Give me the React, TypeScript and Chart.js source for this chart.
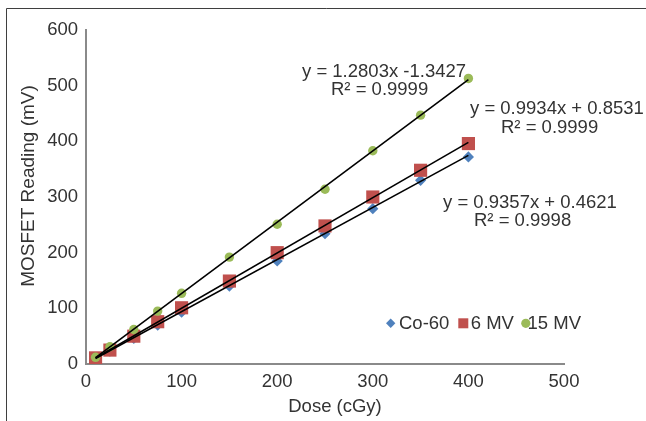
import React, { useEffect, useRef } from "react";
import { Chart, registerables } from "chart.js";

Chart.register(...registerables);

// ---- data ----
const doses = [10, 25, 50, 75, 100, 150, 200, 250, 300, 350, 400];
const co60 = [10, 23, 46, 70, 93, 140, 185, 234, 279, 330, 372];
const mv6 = [11, 25, 50, 76, 101, 149, 200, 248, 300, 348, 396];
const mv15 = [12, 31, 62, 95, 127, 192, 251, 314, 383, 447, 513];

const seriesNames = ["Co-60", "6 MV", "15 MV"];
const seriesColors = ["#4F81BD", "#C0504D", "#9BBB59"];

// trendline fits (as printed on the chart)
const slopes = [0.9357, 0.9934, 1.2803];
const intercepts = [0.4621, 0.8531, -1.3427];
const fitRange = [10, 400];

const equationLabels = [
  "y = 0.9357x + 0.4621",
  "y = 0.9934x + 0.8531",
  "y = 1.2803x -1.3427",
];
const r2Labels = ["R² = 0.9998", "R² = 0.9999", "R² = 0.9999"];

const xTicks = [0, 100, 200, 300, 400, 500];
const yTicks = [0, 100, 200, 300, 400, 500, 600];

const xTitle = "Dose (cGy)";
const yTitle = "MOSFET Reading (mV)";

const FONT = '"Liberation Sans", Arial, Helvetica, sans-serif';
const TEXT = "#333333";

const toPoints = (xs: number[], ys: number[]) => xs.map((x, i) => ({ x, y: ys[i] }));
const trend = (i: number) =>
  fitRange.map((x) => ({ x, y: slopes[i] * x + intercepts[i] }));

// label positions (canvas pixels): [eqX, eqY, r2X, r2Y] per series
const labelPos = [
  [443, 208, 474, 225.5],
  [470, 114, 501, 133],
  [302, 76.5, 331, 95],
];

const decorPlugin = {
  id: "decor",
  beforeDraw(chart: any) {
    const ctx = chart.ctx;
    ctx.save();
    ctx.fillStyle = "#ffffff";
    ctx.fillRect(0, 0, chart.width, chart.height);
    // outer frame
    ctx.strokeStyle = "#3f3f3f";
    ctx.lineWidth = 1;
    ctx.beginPath();
    ctx.moveTo(6.5, chart.height);
    ctx.lineTo(6.5, 8.5);
    ctx.lineTo(chart.width, 8.5);
    ctx.stroke();
    ctx.restore();
  },
  afterDraw(chart: any) {
    const ctx = chart.ctx;
    ctx.save();
    ctx.fillStyle = TEXT;
    ctx.textBaseline = "alphabetic";
    ctx.textAlign = "left";
    ctx.font = `18.5px ${FONT}`;
    // trendline equations
    for (let i = 0; i < 3; i++) {
      const p = labelPos[i];
      ctx.fillText(equationLabels[i], p[0], p[1]);
      ctx.fillText(r2Labels[i], p[2], p[3]);
    }
    // axis titles
    ctx.textAlign = "center";
    ctx.fillText(xTitle, 335, 411.5);
    ctx.save();
    ctx.translate(33.5, 186);
    ctx.rotate(-Math.PI / 2);
    ctx.font = `19px ${FONT}`;
    ctx.fillText(yTitle, 0, 0);
    ctx.restore();

    // legend
    const ly = 323.3;
    const base = 328.5;
    ctx.textAlign = "left";
    // Co-60 diamond
    ctx.fillStyle = seriesColors[0];
    ctx.beginPath();
    ctx.moveTo(390.7 - 4.7, ly);
    ctx.lineTo(390.7, ly - 4.7);
    ctx.lineTo(390.7 + 4.7, ly);
    ctx.lineTo(390.7, ly + 4.7);
    ctx.closePath();
    ctx.fill();
    ctx.fillStyle = TEXT;
    ctx.fillText(seriesNames[0], 399, base);
    // 6 MV square
    ctx.fillStyle = seriesColors[1];
    ctx.fillRect(458.3, ly - 5, 10, 10);
    ctx.fillStyle = TEXT;
    ctx.fillText(seriesNames[1], 470.7, base);
    // 15 MV circle
    ctx.fillStyle = seriesColors[2];
    ctx.beginPath();
    ctx.arc(525.8, ly, 4.6, 0, Math.PI * 2);
    ctx.fill();
    ctx.fillStyle = TEXT;
    ctx.fillText(seriesNames[2], 527.5, base);
    ctx.restore();
  },
};

export default function App() {
  const ref = useRef<HTMLCanvasElement | null>(null);

  useEffect(() => {
    if (!ref.current) return;
    const lineStyle = {
      type: "scatter" as const,
      showLine: true,
      borderColor: "#000000",
      borderWidth: 1.6,
      pointRadius: 0,
      pointHoverRadius: 0,
      fill: false,
    };
    const chart = new Chart(ref.current, {
      type: "scatter",
      data: {
        datasets: [
          { ...lineStyle, label: "trend15", data: trend(2), order: 0 },
          { ...lineStyle, label: "trend6", data: trend(1), order: 1 },
          { ...lineStyle, label: "trendCo", data: trend(0), order: 2 },
          {
            label: seriesNames[2],
            data: toPoints(doses, mv15),
            pointStyle: "circle",
            pointRadius: 4.7,
            backgroundColor: seriesColors[2],
            borderColor: seriesColors[2],
            borderWidth: 0,
            order: 3,
          },
          {
            label: seriesNames[1],
            data: toPoints(doses, mv6),
            pointStyle: "rect",
            pointRadius: 9.3,
            backgroundColor: seriesColors[1],
            borderColor: seriesColors[1],
            borderWidth: 0,
            order: 4,
          },
          {
            label: seriesNames[0],
            data: toPoints(doses, co60),
            pointStyle: "rectRot",
            pointRadius: 5.6,
            backgroundColor: seriesColors[0],
            borderColor: seriesColors[0],
            borderWidth: 0,
            order: 5,
          },
        ],
      },
      options: {
        animation: false,
        responsive: false,
        devicePixelRatio: 1,
        layout: { padding: { left: 0, top: 30, right: 82, bottom: 0 } },
        plugins: {
          legend: { display: false },
          tooltip: { enabled: false },
          title: { display: false },
        },
        scales: {
          x: {
            type: "linear",
            min: xTicks[0],
            max: xTicks[xTicks.length - 1],
            afterBuildTicks: (s: any) => {
              s.ticks = xTicks.map((v) => ({ value: v }));
            },
            afterFit: (s: any) => {
              s.height = 57;
            },
            grid: { display: false, drawTicks: false },
            border: { display: true, color: "#8a8a8a", width: 2 },
            ticks: {
              padding: 6.5,
              color: TEXT,
              font: { family: FONT, size: 18.5 },
              maxRotation: 0,
            },
            title: { display: false },
          },
          y: {
            type: "linear",
            min: yTicks[0],
            max: yTicks[yTicks.length - 1],
            afterBuildTicks: (s: any) => {
              s.ticks = yTicks.map((v) => ({ value: v }));
            },
            afterFit: (s: any) => {
              s.width = 86;
            },
            grid: { display: false, drawTicks: false },
            border: { display: true, color: "#8a8a8a", width: 2 },
            ticks: {
              padding: 8,
              color: TEXT,
              font: { family: FONT, size: 18.5 },
            },
            title: { display: false },
          },
        },
      },
      plugins: [decorPlugin],
    } as any);
    return () => chart.destroy();
  }, []);

  return (
    <div style={{ position: "fixed", left: 0, top: 0, width: 646, height: 421, background: "#fff" }}>
      <canvas ref={ref} width={646} height={421} style={{ display: "block", width: 646, height: 421 }} />
    </div>
  );
}
